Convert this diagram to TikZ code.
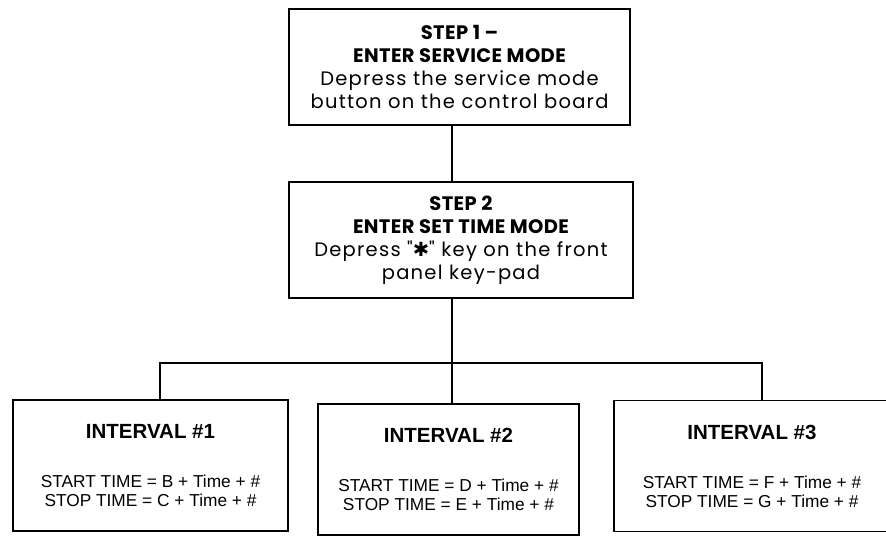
\documentclass[tikz,border=0pt]{standalone}
\usepackage{fontspec}
\setmainfont{Liberation Sans}
\newfontfamily\gothic{Poppins}
\newfontfamily\gothicwide[LetterSpace=6.5]{Poppins}
\newfontfamily\symb{DejaVu Sans}
\usetikzlibrary{positioning}

\tikzset{
  stepbox/.style={draw, line width=1.6pt, minimum width=341pt, minimum height=116pt,
    align=center, inner sep=0pt, font=\gothicwide\fontsize{19.5}{23}\selectfont},
  intbox/.style={draw, line width=1.6pt, minimum height=131pt,
    align=center, inner sep=0pt, font=\fontsize{17.3}{19}\selectfont},
  wire/.style={line width=1.3pt}
}
\newcommand{\headline}[1]{{\gothic\bfseries\addfontfeature{LetterSpace=2}#1}}
\newcommand{\inthead}[1]{{\bfseries\fontsize{20.5}{19}\selectfont #1}}

\begin{document}
\begin{tikzpicture}[x=1pt,y=-1pt]
		%%%%% FRAME %%%%%
		\clip (0,0) rectangle (886,536);
		
		%%%%% STEPS %%%%%
		\node[stepbox] (s1) at (459.5,67) {\headline{STEP 1 –}\\\headline{ENTER SERVICE MODE}\\Depress the service mode\\button on the control board};
		\node[stepbox, minimum width=344pt] (s2) at (461,240) {\headline{STEP 2}\\\headline{ENTER SET TIME MODE}\\Depress "{\symb\bfseries ✱}" key on the front\\panel key-pad};
		
		%%%%% INTERVALS %%%%%
		\node[intbox, minimum width=275pt] (i1) at (150.5,465.5) {\inthead{INTERVAL \#1}\\[30pt]START TIME = B + Time + \#\\STOP TIME = C + Time + \#};
		\node[intbox, minimum width=261pt] (i2) at (448.5,469.5) {\inthead{INTERVAL \#2}\\[30pt]START TIME = D + Time + \#\\STOP TIME = E + Time + \#};
		\node[intbox, minimum width=276pt] (i3) at (752,466) {\inthead{INTERVAL \#3}\\[30pt]START TIME = F + Time + \#\\STOP TIME = G + Time + \#};
		
		%%%%% CONNECTORS %%%%%
		\coordinate (trunk) at (452,363);
		\coordinate (d1) at (160,363);
		\coordinate (d3) at (762,363);
		\draw[wire] (s1.south -| trunk) -- (s2.north -| trunk);
		\draw[wire] (s2.south -| trunk) -- (i2.north -| trunk);
		\draw[wire] (i1.north -| d1) -- (d1) -- (d3) -- (i3.north -| d3);
	\end{tikzpicture}
\end{document}
